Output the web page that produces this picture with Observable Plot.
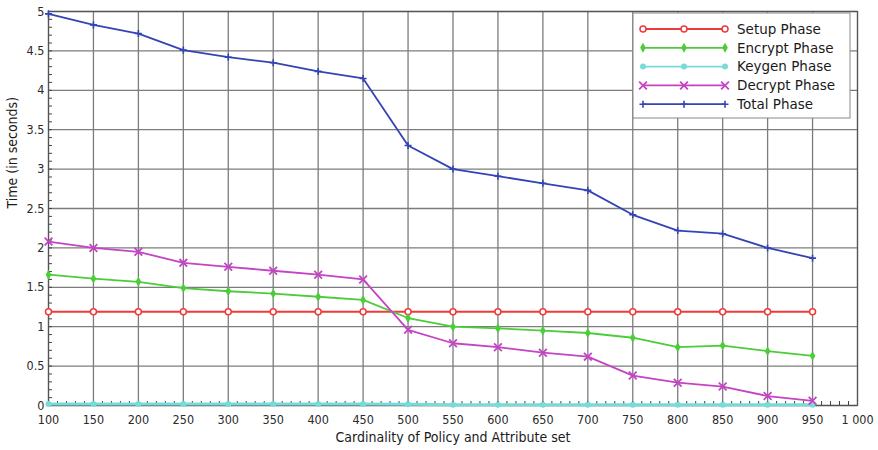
<!DOCTYPE html>
<html>
<head>
<meta charset="utf-8">
<script src="https://cdn.jsdelivr.net/npm/d3@7"></script>
<script src="https://cdn.jsdelivr.net/npm/@observablehq/plot@0.6"></script>
<style>
  html, body { margin: 0; padding: 0; background: #fff; }
  #chart { width: 878px; height: 450px; }
</style>
</head>
<body>
<div id="chart"></div>
<script>
// ---- data ----
const cardinality = [100,150,200,250,300,350,400,450,500,550,600,650,700,750,800,850,900,950];
const setupPhase   = [1.19,1.19,1.19,1.19,1.19,1.19,1.19,1.19,1.19,1.19,1.19,1.19,1.19,1.19,1.19,1.19,1.19,1.19];
const encryptPhase = [1.66,1.61,1.57,1.49,1.45,1.42,1.38,1.34,1.11,1.00,0.98,0.95,0.92,0.86,0.74,0.76,0.69,0.63];
const keygenPhase  = [0.02,0.02,0.02,0.02,0.02,0.02,0.02,0.02,0.015,0.01,0.01,0.01,0.01,0.01,0.01,0.01,0.01,0.01];
const decryptPhase = [2.08,2.00,1.95,1.81,1.76,1.71,1.66,1.60,0.96,0.79,0.74,0.67,0.62,0.38,0.29,0.24,0.12,0.06];
const totalPhase   = [4.97,4.83,4.72,4.51,4.42,4.35,4.24,4.15,3.30,3.00,2.91,2.82,2.73,2.42,2.22,2.18,2.00,1.87];
const seriesNames  = ["Setup Phase","Encrypt Phase","Keygen Phase","Decrypt Phase","Total Phase"];
const xTicks = [100,150,200,250,300,350,400,450,500,550,600,650,700,750,800,850,900,950,1000];
const yTicks = [0,0.5,1,1.5,2,2.5,3,3.5,4,4.5,5];
const xLabel = "Cardinality of Policy and Attribute set";
const yLabel = "Time (in seconds)";

// ---- styles ----
const styles = {
  "Setup Phase":   {color: "#f03a3a", symbol: "circle",  r: 3,   fill: "white",  stroke: true,  sw: 1.5},
  "Encrypt Phase": {color: "#4ccc3a", symbol: "diamond", r: 3,   fill: null,     stroke: false, sw: 1},
  "Keygen Phase":  {color: "#77dcd8", symbol: "circle",  r: 3,   fill: null,     stroke: false, sw: 1},
  "Decrypt Phase": {color: "#c444c4", symbol: "times",   r: 3.6, fill: "none",   stroke: true,  sw: 1.8},
  "Total Phase":   {color: "#3444b4", symbol: "plus",    r: 2.4, fill: "none",   stroke: true,  sw: 1.6}
};
const values = [setupPhase, encryptPhase, keygenPhase, decryptPhase, totalPhase];
const table = [];
seriesNames.forEach((name, i) => {
  cardinality.forEach((x, j) => table.push({series: name, x, y: values[i][j]}));
});

const W = 878, H = 450, mL = 48, mR = 21, mT = 11, mB = 45;
const plotW = W - mL - mR, plotH = H - mT - mB;
const minorX = d3.range(100, 1001, 10);
const minorY = d3.range(0, 5.001, 0.1);

const lineMarks = [];
["Keygen Phase","Setup Phase","Encrypt Phase","Decrypt Phase","Total Phase"].forEach(name => {
  const s = styles[name];
  const data = table.filter(d => d.series === name);
  lineMarks.push(Plot.line(data, {x: "x", y: "y", stroke: s.color, strokeWidth: name === "Keygen Phase" ? 3 : 1.8}));
  lineMarks.push(Plot.dot(data, {
    x: "x", y: "y", r: s.r, symbol: s.symbol,
    fill: s.stroke ? s.fill : s.color,
    stroke: s.stroke ? s.color : "none",
    strokeWidth: s.sw
  }));
});

const chart = Plot.plot({
  width: W, height: H,
  marginLeft: mL, marginRight: mR, marginTop: mT, marginBottom: mB,
  style: {fontFamily: "'DejaVu Sans Condensed', 'DejaVu Sans', sans-serif", fontSize: "12px", color: "#333", background: "white", overflow: "visible"},
  x: {domain: [100, 1000], label: null},
  y: {domain: [0, 5], label: null},
  marks: [
    Plot.gridX(xTicks, {stroke: "#7c7c7c", strokeOpacity: 1, strokeWidth: 1.3}),
    Plot.gridY(yTicks, {stroke: "#7c7c7c", strokeOpacity: 1, strokeWidth: 1.3}),
    Plot.ruleX(minorX, {x: d => d, insetTop: plotH - 4, stroke: "#444", strokeWidth: 1}),
    Plot.ruleY(minorY, {y: d => d, insetRight: plotW - 4, stroke: "#444", strokeWidth: 1}),
    Plot.axisX(xTicks, {tickSize: 0, tickPadding: 9.5, tickFormat: d => d === 1000 ? "1 000" : String(d), fontSize: 12.5, fill: "#2a2a2a"}),
    Plot.axisY(yTicks, {tickSize: 0, tickPadding: 4, tickFormat: d => String(d), fontSize: 12.5, fill: "#2a2a2a"}),
    Plot.frame({stroke: "#555", strokeWidth: 1.2}),
    ...lineMarks,
    Plot.text([xLabel], {frameAnchor: "bottom", dy: 36, fontSize: 14, fill: "#1a1a1a", fontWeight: 500}),
    Plot.text([yLabel], {frameAnchor: "left", rotate: -90, dx: -36, fontSize: 14, fill: "#1a1a1a"})
  ]
});
document.getElementById("chart").appendChild(chart);

// ---- legend ----
const svg = d3.select(chart);
const lg = svg.append("g").attr("transform", "translate(633,13)");
lg.append("rect").attr("width", 217).attr("height", 105).attr("fill", "white").attr("stroke", "#888").attr("stroke-width", 1);
const symMap = {circle: d3.symbolCircle, diamond: d3.symbolDiamond, times: d3.symbolTimes, plus: d3.symbolPlus};
seriesNames.forEach((name, i) => {
  const s = styles[name];
  const y = 16 + i * 18.8;
  const g = lg.append("g").attr("transform", `translate(0,${y})`);
  g.append("line").attr("x1", 10).attr("x2", 92).attr("y1", 0).attr("y2", 0).attr("stroke", s.color).attr("stroke-width", 1.8);
  [10, 51, 92].forEach(cx => {
    const area = Math.PI * s.r * s.r;
    g.append("path")
      .attr("transform", `translate(${cx},0)`)
      .attr("d", d3.symbol(symMap[s.symbol], area)())
      .attr("fill", s.stroke ? s.fill : s.color)
      .attr("stroke", s.stroke ? s.color : "none")
      .attr("stroke-width", s.sw);
  });
  g.append("text").attr("x", 104).attr("y", 0).attr("dy", "0.35em")
    .attr("text-anchor", "start")
    .attr("font-family", "'DejaVu Sans', sans-serif").attr("font-size", 13.5).attr("fill", "#1a1a1a")
    .text(name);
});
</script>
</body>
</html>
